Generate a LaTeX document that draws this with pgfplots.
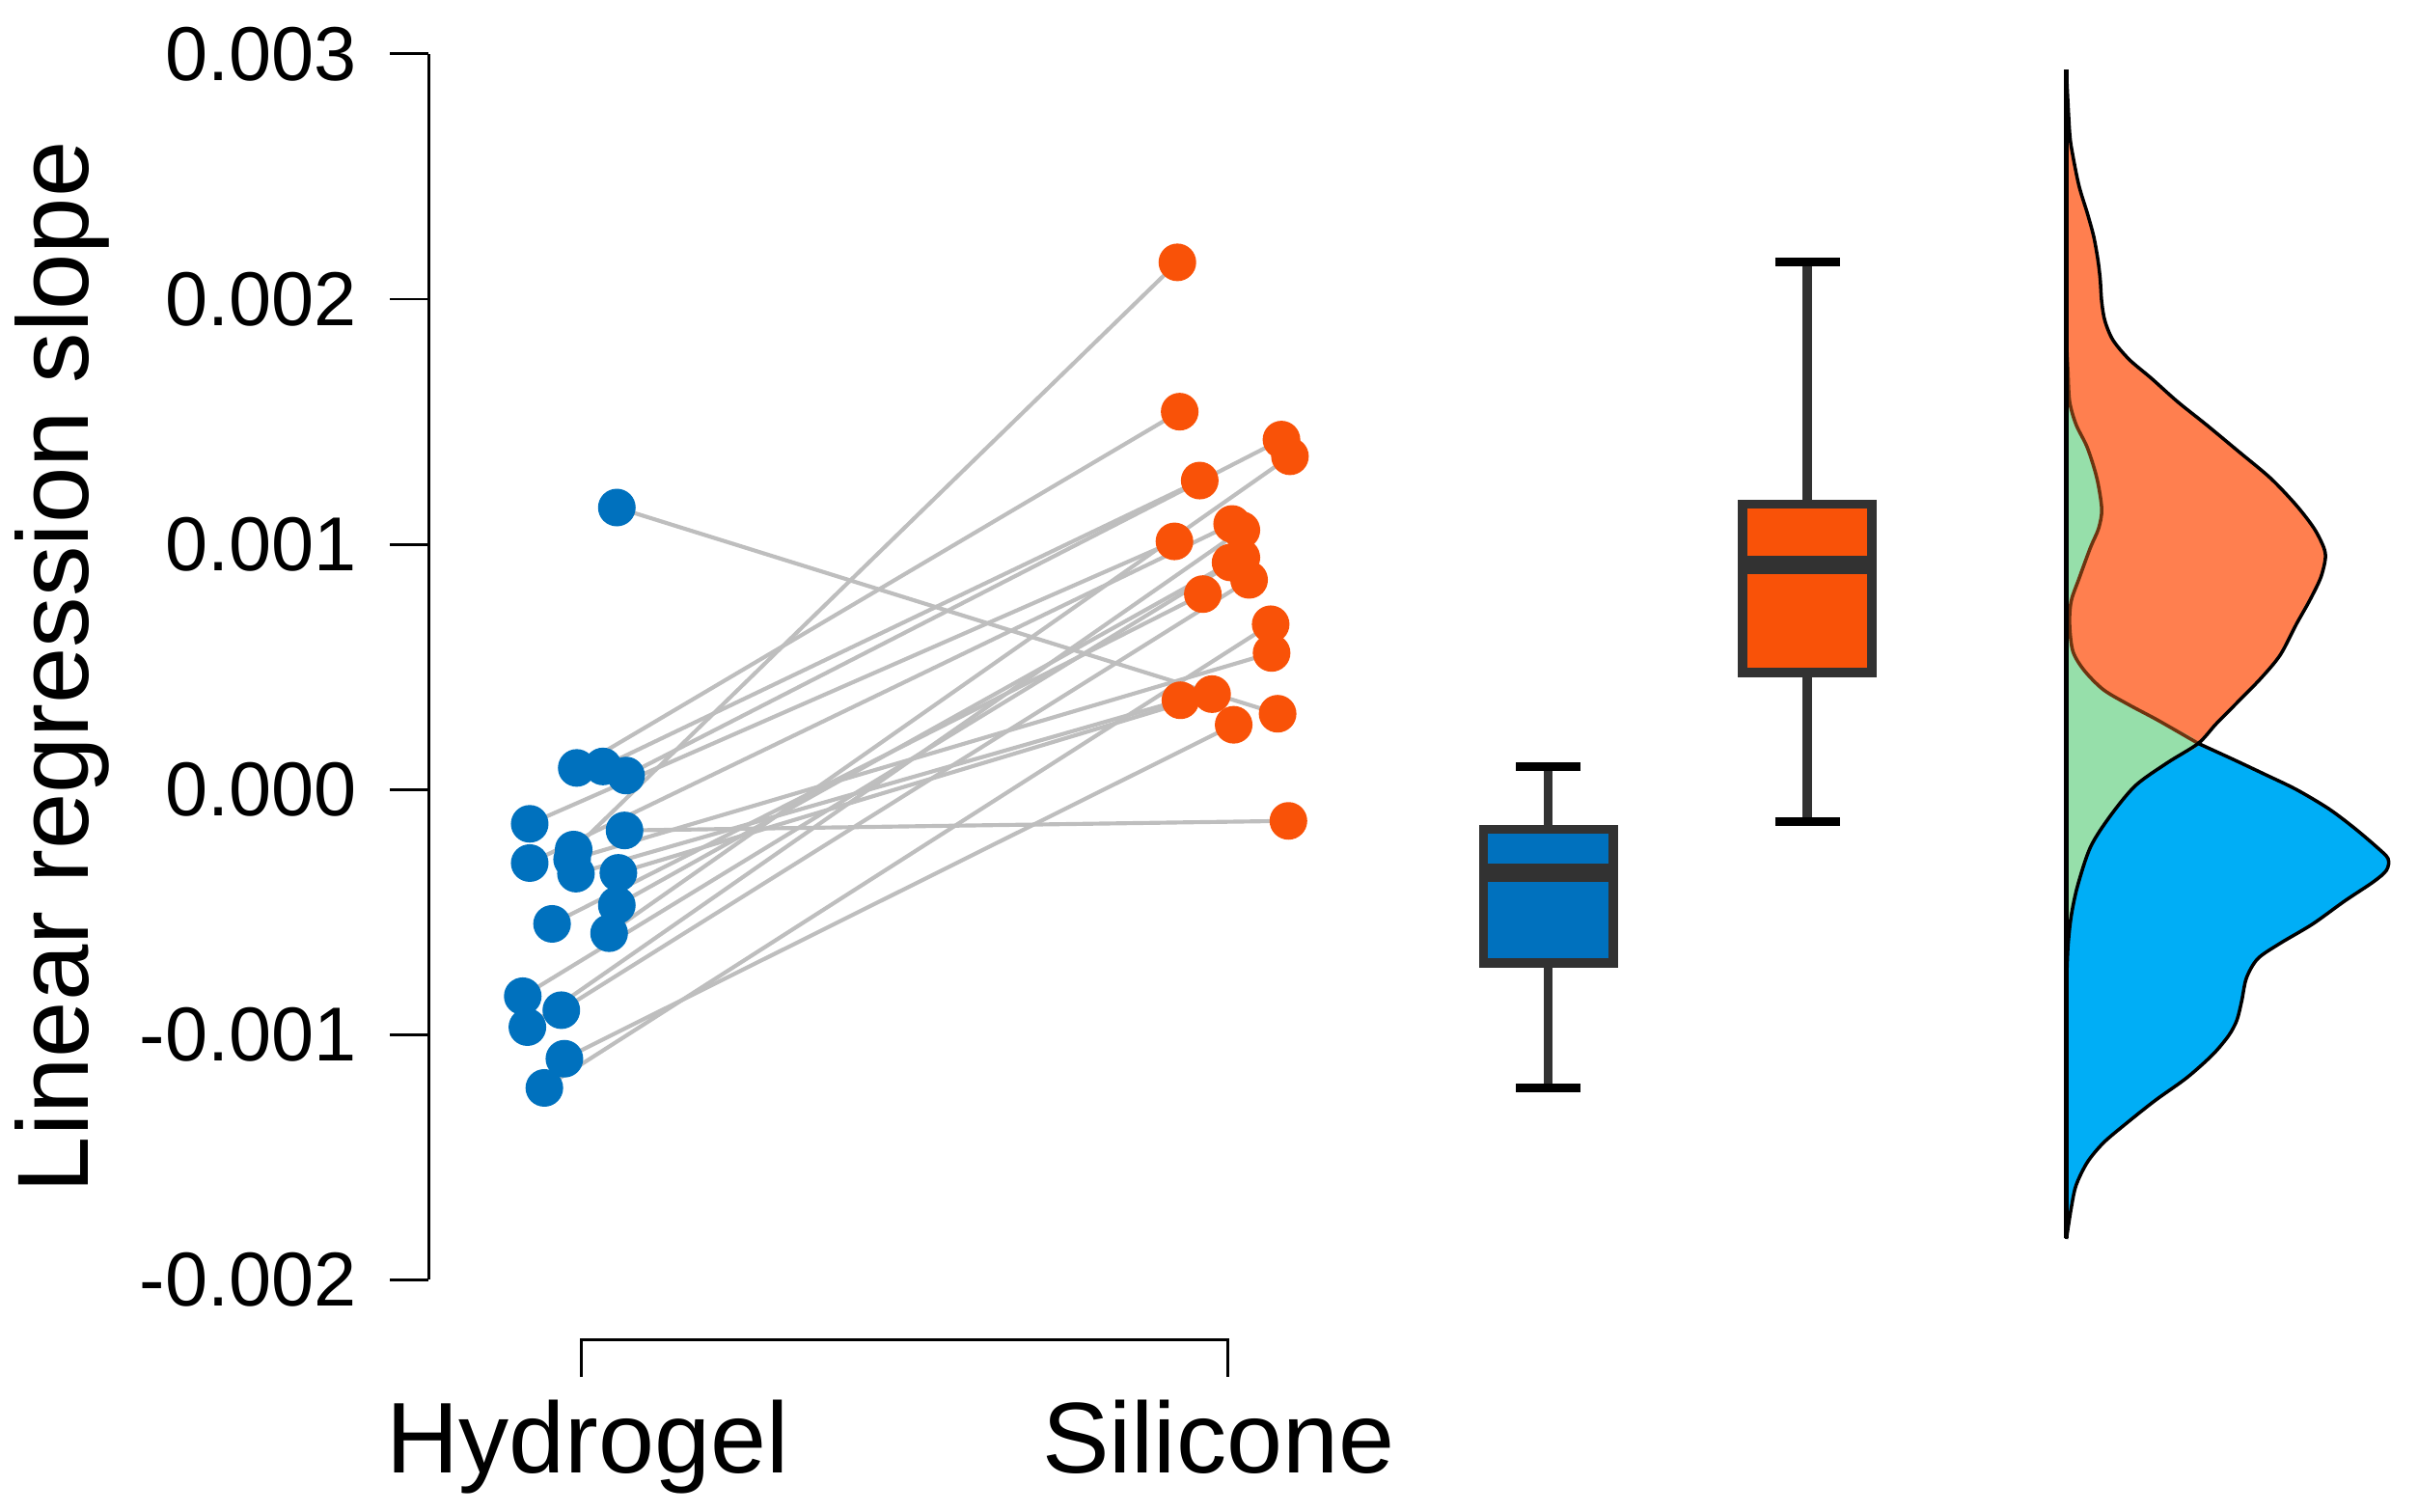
\documentclass[border=0pt]{standalone}
\usepackage{fontspec}
\setmainfont{Liberation Sans}
\usepackage{pgfplots}
\usepackage{pgfplotstable}
\pgfplotsset{compat=1.18}
\definecolor{ptblue}{RGB}{0,113,190}
\definecolor{ptorange}{RGB}{249,82,8}
\definecolor{linegray}{RGB}{190,190,190}
\definecolor{boxedge}{RGB}{50,50,50}
\definecolor{dorange}{RGB}{255,127,79}
\definecolor{dblue}{RGB}{0,174,246}
\definecolor{dgreen}{RGB}{150,223,170}
\definecolor{dbrown}{RGB}{110,52,16}

\pgfplotstableread{
x y
400 0.001150
374 0.000088
391 0.000094
406 0.000057
343.5 -0.000140
405 -0.000167
343.5 -0.000300
372 -0.000245
373.5 -0.000343
401 -0.000340
358 -0.000548
400 -0.000472
395 -0.000586
339 -0.000843
342 -0.000969
364 -0.000900
366 -0.001098
353 -0.001217
371 -0.000285
}\hydrogel

\pgfplotstableread{
x y
763.5 0.002150
765 0.001541
831 0.001427
836.5 0.001359
778 0.001260
761.6 0.001012
799 0.001083
805 0.001058
798 0.000926
805 0.000946
810 0.000855
780 0.000797
824 0.000674
824.6 0.000557
765.5 0.000364
786 0.000389
828.5 0.000309
800 0.000264
835.5 -0.000128
}\silicone

\pgfplotstableread{
x y
1340 0.002929
1342.1 0.002679
1344.2 0.002585
1348.3 0.002459
1353.6 0.002350
1357.7 0.002256
1360.4 0.002162
1361.9 0.002083
1362.9 0.001989
1365.0 0.001911
1370.2 0.001833
1380.7 0.001754
1395.3 0.001676
1412.0 0.001582
1430.7 0.001488
1451.6 0.001379
1472.5 0.001269
1489.1 0.001159
1500.6 0.001065
1506.9 0.000987
1507.9 0.000940
1504.8 0.000862
1497.5 0.000768
1489.1 0.000674
1478.7 0.000549
1466.2 0.000454
1451.6 0.000360
1437.0 0.000267
1425.5 0.000188
1405.7 0.000110
1384.8 0.000016
1368.2 -0.000110
1355.6 -0.000235
1347.3 -0.000392
1343.1 -0.000517
1341.0 -0.000643
1340 -0.000800
}\densorange

\pgfplotstableread{
x y
1340 0.001833
1341.0 0.001707
1342.1 0.001582
1346.3 0.001488
1353.6 0.001394
1359.8 0.001269
1362.9 0.001144
1360.9 0.001065
1355.6 0.000987
1348.3 0.000862
1343.1 0.000768
1342.1 0.000674
1344.2 0.000564
1351.5 0.000486
1364.0 0.000407
1380.7 0.000345
1399.5 0.000282
1425.5 0.000188
1447.4 0.000125
1468.3 0.000063
1489.1 0.000000
1510.0 -0.000078
1526.7 -0.000157
1541.3 -0.000235
1548.6 -0.000282
1547.6 -0.000329
1539.2 -0.000376
1520.4 -0.000455
1499.6 -0.000549
1478.7 -0.000627
1464.1 -0.000690
1456.8 -0.000768
1453.7 -0.000862
1450.6 -0.000940
1445.3 -0.001003
1434.9 -0.001081
1418.2 -0.001175
1397.4 -0.001269
1378.6 -0.001363
1364.0 -0.001441
1353.6 -0.001520
1346.3 -0.001614
1343.1 -0.001708
1340 -0.001833
}\densblue

\begin{document}
\begin{tikzpicture}
\begin{axis}[
  scale only axis, width=318.5pt, height=198.75pt,
  xmin=278, xmax=1552, ymin=-0.002, ymax=0.003,
  axis x line=none, axis y line*=left,
  y axis line style={-, line width=0.45pt, black},
  xtick=\empty,
  ytick={-0.002,-0.001,0,0.001,0.002,0.003},
  yticklabels={-0.002,-0.001,0.000,0.001,0.002,0.003},
  scaled y ticks=false,
  tick align=outside, major tick length=6.25pt,
  every tick/.style={black, line width=0.45pt},
  yticklabel style={font=\fontsize{12.4}{14}\selectfont, anchor=east, inner sep=0pt, xshift=-5.25pt},
  ylabel={Linear regression slope},
  ylabel style={font=\fontsize{16.4}{19}\selectfont, at={(axis description cs:-0.1868,0.5)}, anchor=center, inner sep=0pt},
  clip=false,
]
% bounding box (full picture extent)
\path (axis cs:0,0.00322) rectangle (axis cs:1568,-0.002943);

% paired lines
\pgfplotsset{pair/.style={linegray, line width=0.65pt}}
\addplot[pair] coordinates {(400,0.001150) (828.5,0.000309)};
\addplot[pair] coordinates {(374,0.000088) (765,0.001541)};
\addplot[pair] coordinates {(391,0.000094) (778,0.001260)};
\addplot[pair] coordinates {(406,0.000057) (831,0.001427)};
\addplot[pair] coordinates {(343.5,-0.000140) (761.6,0.001012)};
\addplot[pair] coordinates {(405,-0.000167) (835.5,-0.000128)};
\addplot[pair] coordinates {(343.5,-0.000300) (799,0.001083)};
\addplot[pair] coordinates {(372,-0.000245) (763.5,0.002150)};
\addplot[pair] coordinates {(373.5,-0.000343) (765.5,0.000364)};
\addplot[pair] coordinates {(401,-0.000340) (786,0.000389)};
\addplot[pair] coordinates {(358,-0.000548) (780,0.000797)};
\addplot[pair] coordinates {(400,-0.000472) (798,0.000926)};
\addplot[pair] coordinates {(395,-0.000586) (836.5,0.001359)};
\addplot[pair] coordinates {(339,-0.000843) (805,0.000946)};
\addplot[pair] coordinates {(342,-0.000969) (805,0.001058)};
\addplot[pair] coordinates {(364,-0.000900) (810,0.000855)};
\addplot[pair] coordinates {(366,-0.001098) (800,0.000264)};
\addplot[pair] coordinates {(353,-0.001217) (824,0.000674)};
\addplot[pair] coordinates {(371,-0.000285) (824.6,0.000557)};

% points
\addplot[only marks, mark=*, mark size=2.85pt, ptblue, mark options={draw=ptblue, fill=ptblue}] table {\hydrogel};
\addplot[only marks, mark=*, mark size=2.85pt, ptorange, mark options={draw=ptorange, fill=ptorange}] table {\silicone};

% box plot: Hydrogel
\addplot[boxedge, line width=1.45pt] coordinates {(1004,-0.000162) (1004,0.000093)};
\addplot[boxedge, line width=1.45pt] coordinates {(1004,-0.000707) (1004,-0.001216)};
\addplot[black, line width=1.35pt] coordinates {(983,0.000093) (1025,0.000093)};
\addplot[black, line width=1.35pt] coordinates {(983,-0.001216) (1025,-0.001216)};
\addplot[fill=ptblue, draw=boxedge, line width=1.5pt] coordinates {(962,-0.000707) (1046,-0.000707) (1046,-0.000162) (962,-0.000162)} -- cycle;
\addplot[boxedge, line width=3pt] coordinates {(962,-0.000341) (1046,-0.000341)};

% box plot: Silicone
\addplot[boxedge, line width=1.45pt] coordinates {(1172,0.001163) (1172,0.002151)};
\addplot[boxedge, line width=1.45pt] coordinates {(1172,0.000478) (1172,-0.000131)};
\addplot[black, line width=1.35pt] coordinates {(1151,0.002151) (1193,0.002151)};
\addplot[black, line width=1.35pt] coordinates {(1151,-0.000131) (1193,-0.000131)};
\addplot[fill=ptorange, draw=boxedge, line width=1.5pt] coordinates {(1130,0.000478) (1214,0.000478) (1214,0.001163) (1130,0.001163)} -- cycle;
\addplot[boxedge, line width=3pt] coordinates {(1130,0.000917) (1214,0.000917)};

% densities
\addplot[fill=dorange, draw=none, smooth, tension=0.5] table {\densorange};
\addplot[fill=dblue, draw=none, smooth, tension=0.5] table {\densblue};
\addplot[fill=dgreen, draw=none, smooth, tension=0.5] table {
x y
1340 0.001833
1341.0 0.001707
1342.1 0.001582
1346.3 0.001488
1353.6 0.001394
1359.8 0.001269
1362.9 0.001144
1360.9 0.001065
1355.6 0.000987
1348.3 0.000862
1343.1 0.000768
1342.1 0.000674
1344.2 0.000564
1351.5 0.000486
1364.0 0.000407
1380.7 0.000345
1399.5 0.000282
1425.5 0.000188
1405.7 0.000110
1384.8 0.000016
1368.2 -0.000110
1355.6 -0.000235
1347.3 -0.000392
1343.1 -0.000517
1341.0 -0.000643
1340 -0.000800
};
\addplot[dbrown, line width=0.55pt, smooth, tension=0.5] table {
x y
1340 0.001833
1341.0 0.001707
1342.1 0.001582
1346.3 0.001488
1353.6 0.001394
1359.8 0.001269
1362.9 0.001144
1360.9 0.001065
1355.6 0.000987
1348.3 0.000862
1343.1 0.000768
1342.1 0.000674
1344.2 0.000564
1351.5 0.000486
1364.0 0.000407
1380.7 0.000345
1399.5 0.000282
1425.5 0.000188
};
\addplot[black, line width=0.55pt, smooth, tension=0.5] table {
x y
1425.5 0.000188
1447.4 0.000125
1468.3 0.000063
1489.1 0.000000
1510.0 -0.000078
1526.7 -0.000157
1541.3 -0.000235
1548.6 -0.000282
1547.6 -0.000329
1539.2 -0.000376
1520.4 -0.000455
1499.6 -0.000549
1478.7 -0.000627
1464.1 -0.000690
1456.8 -0.000768
1453.7 -0.000862
1450.6 -0.000940
1445.3 -0.001003
1434.9 -0.001081
1418.2 -0.001175
1397.4 -0.001269
1378.6 -0.001363
1364.0 -0.001441
1353.6 -0.001520
1346.3 -0.001614
1343.1 -0.001708
1340 -0.001833
};
\addplot[black, line width=0.55pt, smooth, tension=0.5] table {\densorange};
\addplot[black, line width=0.8pt] coordinates {(1340,0.002937) (1340,-0.001830)};

% x-axis bracket and category labels
\draw[line width=0.45pt, black] (axis cs:377,-0.002396) -- (axis cs:377,-0.002245) -- (axis cs:796,-0.002245) -- (axis cs:796,-0.002396);
\node[anchor=base, inner sep=0pt, font=\fontsize{16.3}{19}\selectfont] at (axis cs:381,-0.002786) {Hydrogel};
\node[anchor=base, inner sep=0pt, font=\fontsize{16.3}{19}\selectfont] at (axis cs:790,-0.002786) {Silicone};
\end{axis}
\end{tikzpicture}
\end{document}
